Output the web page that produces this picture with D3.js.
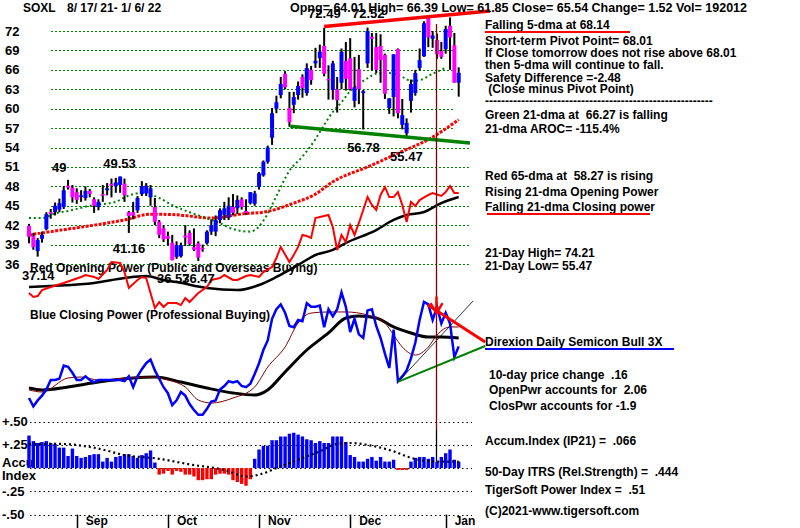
<!DOCTYPE html>
<html><head><meta charset="utf-8">
<script src="https://cdn.jsdelivr.net/npm/d3@7"></script>
<style>
body{margin:0;background:#fff}
text{font-family:"Liberation Sans",Arial,sans-serif;font-weight:bold;font-size:12px;fill:#000}
</style>
</head><body><script>
// ---------- DATA ----------
const openP = [41.9,40.3,38.0,39.9,41.4,44.0,44.0,44.4,44.8,48.1,
47.8,47.1,46.4,46.2,47.3,46.0,44.8,46.8,47.4,48.4,
48.0,48.2,48.4,44.0,44.0,44.3,46.8,46.9,46.3,44.8,
42.5,41.5,40.3,39.3,37.1,37.2,40.4,40.8,38.6,39.2,
38.5,39.2,41.0,41.0,42.8,43.6,43.2,44.8,44.6,46.0,
44.2,45.4,45.3,47.9,49.7,51.8,55.5,60.0,62.1,65.4,
60.1,60.6,62.1,64.9,62.4,66.0,67.0,67.8,69.7,64.6,
62.9,63.0,64.0,67.4,67.8,61.2,66.1,62.4,67.0,71.1,
69.5,69.7,68.3,60.1,61.8,69.2,57.5,56.2,61.2,62.4,
66.3,68.1,74.0,70.8,70.6,68.9,69.2,72.8,69.8,64.01];
const highP = [42.2,40.8,40.0,41.0,44.0,44.5,45.5,46.1,48.0,49.0,
48.2,47.7,47.4,48.0,47.6,46.3,46.0,48.2,48.5,49.2,
49.3,49.53,49.2,44.2,45.6,46.5,48.8,48.5,48.2,46.2,
42.8,42.0,41.0,40.5,39.5,39.3,42.0,41.2,41.5,39.5,
39.0,41.2,42.9,43.5,44.6,45.6,46.3,46.8,46.6,46.3,
46.0,47.1,47.3,50.2,52.0,54.3,60.1,62.0,64.9,65.8,
62.6,62.6,64.2,65.3,67.0,66.6,69.4,69.9,72.49,66.7,
67.4,64.9,69.3,70.3,70.9,68.0,68.3,62.9,72.52,71.7,
71.7,71.5,68.5,61.6,68.4,69.3,61.5,58.5,64.5,66.0,
69.3,73.5,74.21,72.0,71.6,70.3,72.8,74.1,71.7,66.39];
const lowP = [39.2,38.2,37.14,39.3,41.2,43.0,43.5,44.0,44.5,47.5,
45.5,45.3,45.6,45.8,46.3,43.9,44.3,45.6,46.6,46.3,
47.0,47.0,45.6,40.8,42.9,43.9,46.5,46.5,45.0,42.0,
40.0,39.4,38.9,36.57,36.8,37.0,38.8,38.8,38.0,36.47,
37.9,39.0,40.5,40.3,42.3,42.8,42.8,43.5,43.7,44.4,
43.6,45.2,45.0,47.5,49.5,51.5,54.4,59.3,61.6,63.0,
57.2,59.3,61.4,61.7,62.0,63.7,66.3,66.3,65.0,61.4,
61.4,59.4,63.0,62.8,62.8,60.2,60.7,56.78,66.3,65.9,
65.5,64.0,61.5,59.2,58.8,58.5,56.8,55.47,59.4,62.0,
65.9,68.0,69.5,69.4,67.7,67.7,68.5,66.0,64.0,61.85];
const closeP = [40.2,38.6,39.7,40.5,43.7,43.8,45.0,45.4,47.4,47.8,
46.3,45.9,46.6,47.3,46.8,45.0,45.6,46.6,47.7,48.1,
48.6,49.5,46.6,43.4,43.5,46.2,48.0,48.1,47.7,42.5,
40.5,39.8,39.9,36.6,38.9,38.9,40.1,39.1,38.2,37.0,
38.3,41.0,42.0,42.8,44.3,44.6,45.0,43.9,45.9,44.8,
43.9,47.1,46.9,50.0,51.8,54.0,59.3,61.0,63.8,63.3,
57.9,61.8,63.5,63.2,66.3,64.4,67.4,68.8,65.4,64.4,
67.0,61.3,68.8,64.6,63.0,63.3,63.0,62.7,72.0,70.8,
66.0,67.5,62.3,61.6,68.4,59.3,59.0,57.8,63.8,65.5,
67.5,73.2,71.0,71.3,68.4,68.0,72.3,71.0,64.02,65.54];

const red65Days = [0,8,15,22,28,34,42,50,54,61,66,70,78,85,93,99];
const red65Vals = [40.5,41.3,42.0,42.8,43.7,43.6,43.1,43.8,44.0,45.4,46.8,48.7,51.0,53.1,55.6,58.3];

const green21Days = [0,3,6,9,14,20,22,26,30,33,37,40,44,47,51,53,55,57,60,63,66,68,70,72,74,76,78,80,83,86,88,90,93,96];
const green21Vals = [43.1,43.1,43.8,44.2,45.0,45.6,46.3,47.0,46.2,45.1,44.0,43.3,42.3,41.4,41.0,41.8,43.8,46.5,50.4,52.6,55.3,57.5,59.5,61.0,62.7,63.8,64.7,65.4,65.5,64.9,64.3,64.4,65.4,66.3];

const opDays = [0,1,2,3,5,8,10,12,13,15,16,18,19,21,22,23,25,26,27,28,29,30,31,32,34,35,36,37,39,41,42,44,45,47,48,50,51,53,54,56,57,58,60,61,62,63,64,65,66,68,69,70,71,72,73,74,75,76,77,78,79,80,81,82,83,84,85,86,87,88,89,90,92,93,95,96,97,98,99];
const opVals = [5.8,2.5,3.3,8.3,10.8,14.2,16.7,19.2,20.8,19.2,17.5,25,31.7,30.8,23.3,10,16.7,19.2,18.3,5.8,-6.7,-1.7,-5.8,-2.5,-2.5,-4.2,1.7,-1.7,5.8,10.8,16.7,18.3,20.8,16.7,16.7,20,20.8,19.2,23.3,27.5,35,44.2,31.7,37.5,44.2,54.2,53.3,51.7,68.3,70,70.8,60.8,41.7,54.2,48.3,62.5,54.2,64.2,75,85.8,79.2,75,87.5,94.2,85.8,85.8,90,79.2,65,81.7,78.3,83.3,87.5,89.2,86.7,90,95,89.2,89.2];
const opMaDays = [0,5,15,22,27,31,34,41,48,53,57,62,66,70,73,80,84,87,91,95,99];
const opMaVals = [10.8,11.7,14.2,18.3,20,16.7,15,10,8.3,12.5,19.2,29.2,37.5,41.7,47.5,58.3,66.7,70.8,73.3,80.8,85.8];

const cpVals = [10,3,8,12,17,25,25,26,37,36,
31,25,25,28,25,23,25,25,25,25,
25,25,24,28,19,28,34,39,42,33,
26,19,14,4,8,15,12,5,0,-4,
-4,1,7,8,17,20,24,23,24,20,
19,22,30,39,50,58,76,84,88,81,
70,69,75,74,89,86,86,87,69,84,
78,84,98,86,65,76,63,60,83,84,
70,60,47,35,67,24,28,33,43,56,
75,90,88,75,86,72,81,72,44,53];
const cpMaDays = [0,3,9,16,24,29,35,41,47,52,55,59,64,69,73,76,80,84,88,92,95,99];
const cpMaVals = [18.3,16.7,19.2,23.3,26.7,27.5,23.3,18.3,14.2,12.5,16.7,31.7,50,64.2,76.7,78.3,76.7,69.2,64.2,60.8,60.8,60];
const cpMa2Days = [0,3,9,12,16,23,28,32,36,39,42,47,52,55,59,62,65,69,73,78,82,84,86,89,92,94,97,99];
const cpMa2Vals = [16.7,15,26.7,27.5,25,26.7,27.5,25,19.2,8.3,5.8,10,19.2,35.8,52.5,72.5,80.8,81.7,81.7,79.2,72.5,62.5,52.5,45.8,52.5,62.5,69.2,69.2];

const accVals = [.35,.29,.27,.28,.29,.27,.26,.22,.22,.13,
.21,.13,.11,.12,.14,.15,.15,.07,.11,.07,
.12,.13,.15,.15,.13,.11,.14,.16,.19,.06,
-.07,-.06,-.03,-.07,-.03,-.04,-.07,-.07,-.09,-.13,
-.13,-.12,-.12,-.07,-.06,-.06,-.07,-.13,-.15,-.17,
-.19,-.12,.10,.20,.24,.24,.30,.30,.34,.34,
.37,.38,.36,.34,.31,.30,.27,.29,.27,.27,
.34,.34,.34,.28,.14,.12,.07,.07,.10,.12,
.08,.12,.07,.07,.09,-.02,-.02,-.02,.07,.11,
.12,.12,.10,.12,.07,.12,.16,.20,.09,.07];
const accMaDays = [0,7,16,22,30,37,45,50,53,57,62,67,71,74,79,84,88,94,99];
const accMaVals = [.26,.26,.21,.14,.10,.04,-.02,-.09,-.07,0,.09,.18,.26,.27,.24,.18,.11,.07,.07];

const resistLine = [[68,72.7],[106.2,75.1]];
const supportLine = [[60.2,57.3],[101.6,54.7]];
const cpRedLine = [[91.9,87.5],[105.1,56.7]];
const cpGreenLine = [[85.1,23.6],[105.1,53.3]];
const cpThinLine = [[85.1,23.6],[102.3,90.8]];
const signalDay = 93.7;

const priceTicks = [72,69,66,63,60,57,54,51,48,45,42,39,36];
const accTicks = [0.5,0.25,0,-0.25,-0.5];
const accTickLabels = ['+.50','+.25','','-.25','-.50'];
const monthDays = [11,32,53,74,96];
const monthNames = ['Sep','Oct','Nov','Dec','Jan'];

const priceLabels = [
  {t:'49',d:5.3,v:50.28},{t:'49.53',d:17.1,v:50.83},{t:'41.16',d:19.3,v:37.69},
  {t:'37.14',d:-1.6,v:33.51},{t:'36.57',d:29.5,v:33.05},{t:'36.47',d:35.3,v:33.05},
  {t:'56.78',d:73.3,v:53.3},{t:'55.47',d:83.2,v:51.91},{t:'72.49',d:64.3,v:74.0},{t:'72.52',d:74.4,v:74.0}
];
const headerLeft = 'SOXL';
const headerDates = '8/ 17/ 21- 1/ 6/ 22';
const headerRight = 'Opng= 64.01 High= 66.39 Low= 61.85 Close= 65.54 Change= 1.52 Vol= 192012';
const sideTexts = [
  {t:'Falling 5-dma at 68.14',x:485,y:29},
  {t:'Short-term Pivot Point= 68.01',x:485,y:45},
  {t:'If Close tomorrow does not rise above 68.01',x:485,y:57},
  {t:'then 5-dma will continue to fall.',x:485,y:68.5},
  {t:'Safety Difference =-2.48',x:485,y:81.5},
  {t:' (Close minus Pivot Point)',x:485,y:93},
  {t:'---------------------------------------------------------',x:485,y:105},
  {t:'Green 21-dma at  66.27 is falling',x:485,y:119},
  {t:'21-dma AROC= -115.4%',x:485,y:133},
  {t:'Red 65-dma at  58.27 is rising',x:485,y:180},
  {t:'Rising 21-dma Opening Power',x:485,y:196},
  {t:'Falling 21-dma Closing power',x:485,y:211},
  {t:'21-Day High= 74.21',x:485,y:257},
  {t:'21-Day Low= 55.47',x:485,y:270},
  {t:'Direxion Daily Semicon Bull 3X',x:485,y:346},
  {t:'10-day price change  .16',x:489,y:379},
  {t:'OpenPwr accounts for  2.06',x:489,y:394},
  {t:'ClosPwr accounts for -1.9',x:489,y:410},
  {t:'Accum.Index (IP21) =  .066',x:485,y:445},
  {t:'50-Day ITRS (Rel.Strength) =  .444',x:485,y:476},
  {t:'TigerSoft Power Index =  .51',x:485,y:494},
  {t:'(C)2021-www.tigersoft.com',x:485,y:515}
];

// ---------- SCALES ----------
const W=800,H=528;
const x = d3.scaleLinear().domain([0,99]).range([29,458.7]);
const y = d3.scaleLinear().domain([36,72]).range([264,31]);
const opY = d3.scaleLinear().domain([0,100]).range([300,180]);
const cpY = d3.scaleLinear().domain([0,100]).range([410,290]);
const aY = d3.scaleLinear().domain([-0.5,0.5]).range([514.6,421.6]);

const svg = d3.select('body').append('svg').attr('width',W).attr('height',H).style('display','block');
svg.append('rect').attr('width',W).attr('height',H).attr('fill','#fff');

// price gridlines
svg.append('g').selectAll('line').data(priceTicks).join('line')
  .attr('x1',51).attr('x2',d=>d>=57?455:470)
  .attr('y1',d=>Math.round(y(d))+0.5).attr('y2',d=>Math.round(y(d))+0.5)
  .attr('stroke','#008000').attr('stroke-width',1).attr('stroke-dasharray','2,2');
svg.append('g').selectAll('text').data(priceTicks).join('text')
  .attr('x',5).attr('y',d=>y(d)+4.5).style('font-size','13px').text(d=>d);

// accum gridlines
svg.append('g').selectAll('line').data(accTicks).join('line')
  .attr('x1',30).attr('x2',472)
  .attr('y1',d=>Math.round(aY(d))+0.5).attr('y2',d=>Math.round(aY(d))+0.5)
  .attr('stroke','#000').attr('stroke-width',1.2).attr('stroke-dasharray','1.5,3');
svg.append('g').selectAll('text').data(accTicks.map((v,i)=>({v,t:accTickLabels[i]})).filter(d=>d.t)).join('text')
  .attr('x',2).attr('y',d=>aY(d.v)+4.5).style('font-size','13px').text(d=>d.t);
svg.append('text').attr('x',2).attr('y',aY(0)-1).style('font-size','13px').text('Accu');
svg.append('text').attr('x',2).attr('y',aY(0)+12).style('font-size','13px').text('Index');

// moving averages in price panel
const lineXY = (xs, ys, sy, curve) => d3.line().x((d,i)=>x(xs[i])).y((d,i)=>sy(ys[i])).curve(curve||d3.curveLinear)(xs);
svg.append('path').attr('d',lineXY(red65Days,red65Vals,y,d3.curveMonotoneX))
  .attr('fill','none').attr('stroke','#ff0000').attr('stroke-width',3).attr('stroke-dasharray','3,1.4');
svg.append('path').attr('d',lineXY(green21Days,green21Vals,y,d3.curveMonotoneX))
  .attr('fill','none').attr('stroke','#008000').attr('stroke-width',2).attr('stroke-dasharray','2,2.8');

// labels in lower price panel
svg.append('text').attr('x',30).attr('y',272).text('Red Opening Power (Public and Overseas Buying)');
svg.append('text').attr('x',30).attr('y',319).text('Blue Closing Power (Professional Buying)');

// opening power
svg.append('path').attr('d',lineXY(opMaDays,opMaVals,opY,d3.curveMonotoneX))
  .attr('fill','none').attr('stroke','#000').attr('stroke-width',2.5);
svg.append('path').attr('d',lineXY(opDays,opVals,opY))
  .attr('fill','none').attr('stroke','#ff0000').attr('stroke-width',2);

// candles
const days = d3.range(openP.length);
const cg = svg.append('g');
cg.selectAll('rect.w').data(days).join('rect').attr('class','w')
  .attr('x',i=>x(i)-1).attr('width',2)
  .attr('y',i=>y(highP[i])).attr('height',i=>Math.max(1,y(lowP[i])-y(highP[i])))
  .attr('fill','#000');
cg.selectAll('rect.b').data(days).join('rect').attr('class','b')
  .attr('x',i=>x(i)-2).attr('width',4)
  .attr('y',i=>y(Math.max(openP[i],closeP[i])))
  .attr('height',i=>Math.max(1.5,Math.abs(y(openP[i])-y(closeP[i]))))
  .attr('fill',i=>closeP[i]>=openP[i]?'#0000ff':'#ff00ff');

// trendlines in price panel
const seg = (pts, sy) => d3.line().x(d=>x(d[0])).y(d=>sy(d[1]))(pts);
svg.append('path').attr('d',seg(resistLine,y)).attr('stroke','#ff0000').attr('stroke-width',3.5).attr('fill','none');
svg.append('path').attr('d',seg(supportLine,y)).attr('stroke','#008000').attr('stroke-width',3.5).attr('fill','none');

// price labels
svg.append('g').selectAll('text').data(priceLabels).join('text')
  .attr('x',d=>x(d.d)).attr('y',d=>y(d.v)).style('font-size','13px').text(d=>d.t);

// closing power
svg.append('path').attr('d',lineXY(cpMaDays,cpMaVals,cpY,d3.curveMonotoneX))
  .attr('fill','none').attr('stroke','#000').attr('stroke-width',3);
svg.append('path').attr('d',lineXY(cpMa2Days,cpMa2Vals,cpY,d3.curveMonotoneX))
  .attr('fill','none').attr('stroke','#800000').attr('stroke-width',1);
svg.append('path').attr('d',lineXY(days,cpVals,cpY))
  .attr('fill','none').attr('stroke','#0000ff').attr('stroke-width',2.5);
svg.append('path').attr('d',seg(cpThinLine,cpY)).attr('stroke','#000').attr('stroke-width',0.8).attr('fill','none');
svg.append('path').attr('d',seg(cpGreenLine,cpY)).attr('stroke','#008000').attr('stroke-width',2).attr('fill','none');
svg.append('path').attr('d',seg(cpRedLine,cpY)).attr('stroke','#ff0000').attr('stroke-width',3).attr('fill','none');

// accumulation bars
svg.append('g').selectAll('rect').data(days).join('rect')
  .attr('x',i=>x(i)-1.7).attr('width',3.4)
  .attr('y',i=>accVals[i]>=0?aY(accVals[i]):aY(0))
  .attr('height',i=>Math.abs(aY(accVals[i])-aY(0)))
  .attr('fill',i=>accVals[i]>=0?'#0000ff':'#ff0000');
svg.append('path').attr('d',lineXY(accMaDays,accMaVals,aY,d3.curveMonotoneX))
  .attr('fill','none').attr('stroke','#000').attr('stroke-width',2.2).attr('stroke-dasharray','2,3');

// signal vertical line and arrow
const sx = Math.round(x(signalDay))+0.5;
svg.append('line').attr('x1',sx).attr('x2',sx).attr('y1',y(73.1)).attr('y2',aY(0.41)).attr('stroke','#800000').attr('stroke-width',1.3);
svg.append('line').attr('x1',sx).attr('x2',sx).attr('y1',aY(0.41)).attr('y2',aY(0.07)).attr('stroke','#000').attr('stroke-width',1.3);
svg.append('path').attr('d',`M${sx},${cpY(94.5)}L${sx},${cpY(80.5)}M${sx-6},${cpY(89)}L${sx},${cpY(80.5)}L${sx+6},${cpY(89)}`)
  .attr('stroke','#ff0000').attr('stroke-width',2.5).attr('fill','none');

// month axis
svg.append('g').selectAll('line').data(monthDays).join('line')
  .attr('x1',d=>Math.round(x(d))+0.5).attr('x2',d=>Math.round(x(d))+0.5).attr('y1',aY(-0.5)).attr('y2',528)
  .attr('stroke','#000').attr('stroke-width',1.5);
svg.append('g').selectAll('text').data(monthDays).join('text')
  .attr('x',d=>x(d)+9).attr('y',525).text((d,i)=>monthNames[i]);

// header
svg.append('text').attr('x',23).attr('y',12).text(headerLeft);
svg.append('text').attr('x',67).attr('y',12).text(headerDates);
svg.append('text').attr('x',290).attr('y',12).attr('textLength',457).attr('lengthAdjust','spacingAndGlyphs').text(headerRight);

// side texts
svg.append('g').selectAll('text').data(sideTexts).join('text')
  .attr('x',d=>d.x).attr('y',d=>d.y).attr('xml:space','preserve').style('white-space','pre').text(d=>d.t);
svg.append('line').attr('x1',485).attr('x2',630).attr('y1',32).attr('y2',32).attr('stroke','#ff0000').attr('stroke-width',2);
svg.append('line').attr('x1',487).attr('x2',650).attr('y1',214).attr('y2',214).attr('stroke','#ff0000').attr('stroke-width',2);
svg.append('line').attr('x1',485).attr('x2',674).attr('y1',349).attr('y2',349).attr('stroke','#0000ff').attr('stroke-width',2);
</script></body></html>
